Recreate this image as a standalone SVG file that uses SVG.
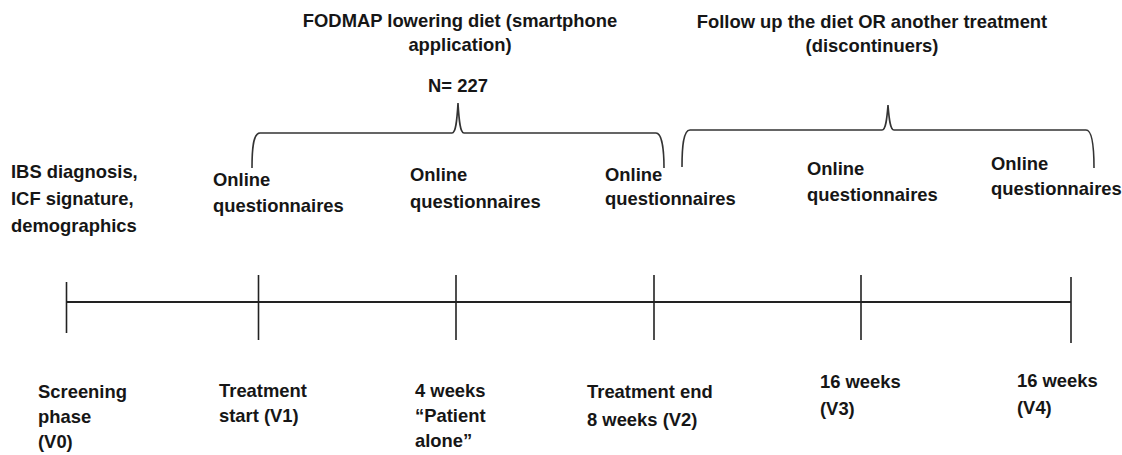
<svg xmlns="http://www.w3.org/2000/svg" width="1122" height="455" viewBox="0 0 1122 455">
<style>
text{font-family:"Liberation Sans",Arial,sans-serif;font-weight:bold;font-size:18.4px;fill:#161616}
.c{text-anchor:middle}
.ln{stroke:#222;stroke-width:2;fill:none}
.tk{stroke:#222;stroke-width:1.6;fill:none}
.br{stroke:#333;stroke-width:1.6;fill:none}
</style>
<rect width="1122" height="455" fill="#fff"/>
<g id="connectors">
<line class="ln" x1="66" y1="302" x2="1071" y2="302"/>
<line class="tk" x1="66.5" y1="282" x2="66.5" y2="333"/>
<line class="tk" x1="258.5" y1="275" x2="258.5" y2="340"/>
<line class="tk" x1="456" y1="275" x2="456" y2="340"/>
<line class="tk" x1="654" y1="275" x2="654" y2="340"/>
<line class="tk" x1="861" y1="275" x2="861" y2="340"/>
<line class="tk" x1="1071" y1="277" x2="1071" y2="343"/>
<path class="br" d="M252,168 C252,150 253,133 260,133 L452,133 C456,133 457,120 458,103 C459,120 460,133 464,133 L656,133 C662,133 664,150 664,168"/>
<path class="br" d="M682,167 C682,149 683,130 690,130 L882,130 C886,130 887,118 888,105 C889,118 890,130 894,130 L1086,130 C1092,130 1094,148 1094,168"/>
</g>
<g id="title1">
<text class="c" x="460" y="27">FODMAP lowering diet (smartphone</text>
<text class="c" x="460" y="51">application)</text>
<text class="c" x="458" y="92">N= 227</text>
</g>
<g id="title2">
<text class="c" x="872" y="28">Follow up the diet OR another treatment</text>
<text class="c" x="872" y="52">(discontinuers)</text>
</g>
<g id="v0-top">
<text x="11" y="178">IBS diagnosis,</text>
<text x="11" y="205">ICF signature,</text>
<text x="11" y="232">demographics</text>
</g>
<g id="v1-top">
<text x="213" y="186">Online</text>
<text x="213" y="212">questionnaires</text>
</g>
<g id="v2-top">
<text x="410" y="181">Online</text>
<text x="410" y="208">questionnaires</text>
</g>
<g id="v3-top">
<text x="605" y="181">Online</text>
<text x="605" y="205">questionnaires</text>
</g>
<g id="v4-top">
<text x="807" y="175">Online</text>
<text x="807" y="201">questionnaires</text>
</g>
<g id="v5-top">
<text x="991" y="170">Online</text>
<text x="991" y="195">questionnaires</text>
</g>
<g id="v0">
<text x="38" y="398">Screening</text>
<text x="38" y="423">phase</text>
<text x="38" y="448">(V0)</text>
</g>
<g id="v1">
<text x="219" y="397">Treatment</text>
<text x="219" y="422">start (V1)</text>
</g>
<g id="v2">
<text x="415" y="397">4 weeks</text>
<text x="415" y="422">“Patient</text>
<text x="415" y="447">alone”</text>
</g>
<g id="v3">
<text x="587" y="398">Treatment end</text>
<text x="587" y="426">8 weeks (V2)</text>
</g>
<g id="v4">
<text x="820" y="388">16 weeks</text>
<text x="820" y="415">(V3)</text>
</g>
<g id="v5">
<text x="1017" y="387">16 weeks</text>
<text x="1017" y="414">(V4)</text>
</g>
</svg>
